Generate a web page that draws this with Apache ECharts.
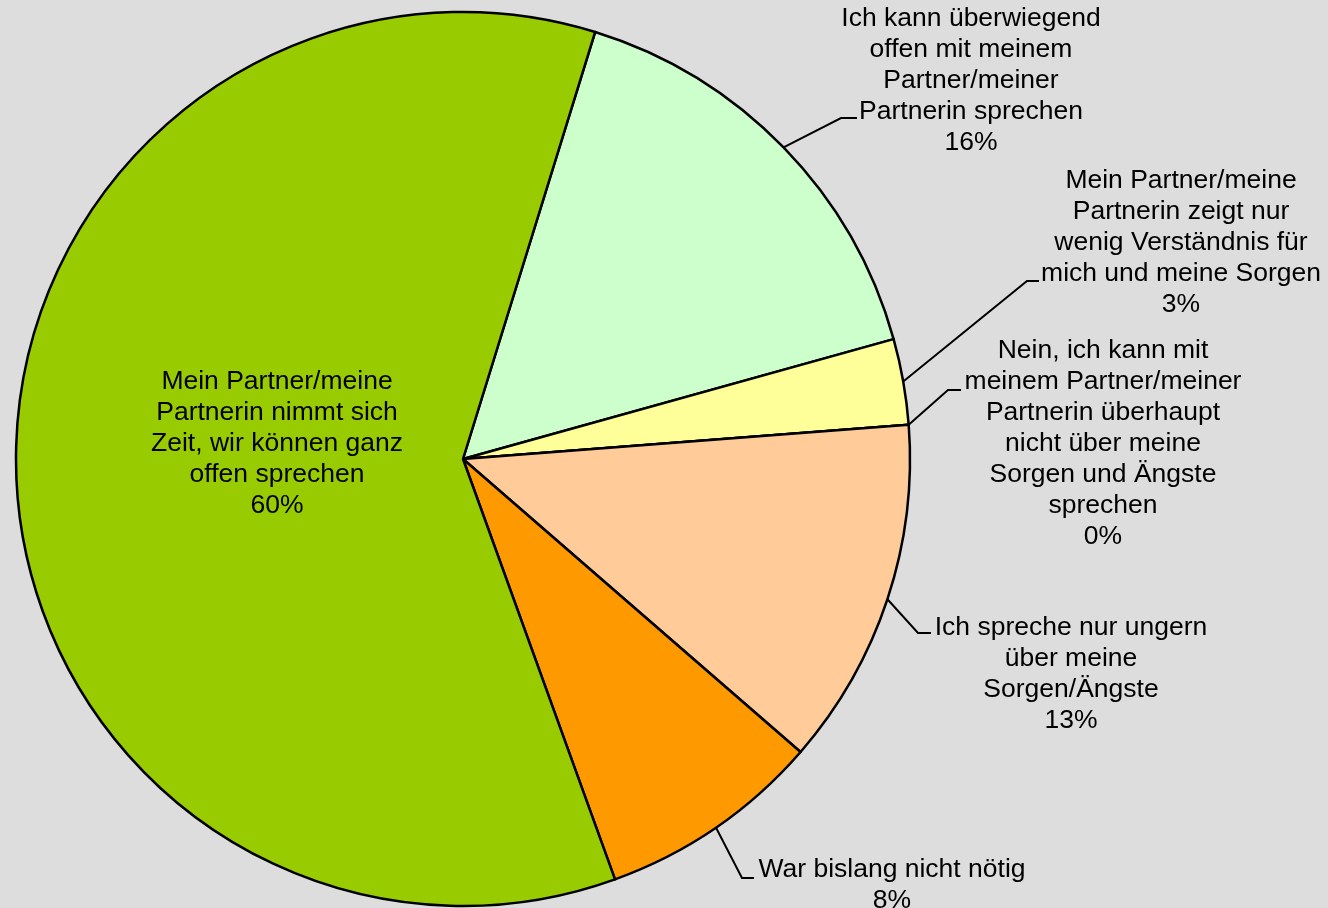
<!DOCTYPE html>
<html>
<head>
<meta charset="utf-8">
<title>Partner</title>
<script src="https://cdn.jsdelivr.net/npm/echarts@6/dist/echarts.min.js"></script>
<style>
  html, body { margin: 0; padding: 0; background: #dddddd; }
  #chart { width: 1328px; height: 908px; }
</style>
</head>
<body>
<div id="chart"></div>
<script>
// slices in drawing order, clockwise
var categories = [
  'Ich kann überwiegend\noffen mit meinem\nPartner/meiner\nPartnerin sprechen',
  'Mein Partner/meine\nPartnerin zeigt nur\nwenig Verständnis für\nmich und meine Sorgen',
  'Nein, ich kann mit\nmeinem Partner/meiner\nPartnerin überhaupt\nnicht über meine\nSorgen und Ängste\nsprechen',
  'Ich spreche nur ungern\nüber meine\nSorgen/Ängste',
  'War bislang nicht nötig',
  'Mein Partner/meine\nPartnerin nimmt sich\nZeit, wir können ganz\noffen sprechen'
]
var values = [15.9, 3.1, 0, 12.6, 8.1, 60.3]
var colors = ['#ccffcc', '#ffff99', '#ffcc99', '#ffcc99', '#ff9900', '#99cc00']

// label block (center x, top y) and leader elbow/end points
var labelSpots = [
  { x: 971, y: 3, line: [[841, 118], [857, 118]] },
  { x: 1181, y: 165, line: [[1027, 281], [1039, 281]] },
  { x: 1103, y: 335, line: [[948, 390], [961, 390]] },
  { x: 1071, y: 612, line: [[918, 633], [931, 633]] },
  { x: 892, y: 854, line: [[742, 878], [754, 878]] },
  { x: 277, y: 366, line: null }
]

var chart = echarts.init(document.getElementById('chart'))

chart.setOption({
  backgroundColor: '#dddddd',
  animation: false,
  series: [{
    type: 'pie',
    center: [463, 459],
    radius: 447,
    startAngle: 72.8,
    clockwise: true,
    percentPrecision: 0,
    avoidLabelOverlap: false,
    itemStyle: {
      borderColor: '#000',
      borderWidth: 2.5
    },
    label: {
      show: true,
      position: 'outside',
      formatter: '{b}\n{d}%',
      color: '#000',
      fontFamily: '"Liberation Sans", Arial, sans-serif',
      fontSize: 26.5,
      lineHeight: 31,
      align: 'center'
    },
    labelLine: {
      show: true,
      smooth: false,
      length: 20,
      length2: 10,
      lineStyle: { color: '#000', width: 2 }
    },
    emphasis: { disabled: true },
    labelLayout: function (params) {
      var spot = labelSpots[params.dataIndex]
      var out = {
        x: spot.x,
        y: spot.y,
        align: 'center',
        verticalAlign: 'top'
      }
      if (spot.line && params.labelLinePoints) {
        out.labelLinePoints = [params.labelLinePoints[0], spot.line[0], spot.line[1]]
      }
      return out
    },
    data: values.map(function (v, i) {
      return {
        name: categories[i],
        value: v,
        itemStyle: { color: colors[i] },
        labelLine: { show: i !== 5 }
      }
    })
  }]
})
</script>
</body>
</html>
